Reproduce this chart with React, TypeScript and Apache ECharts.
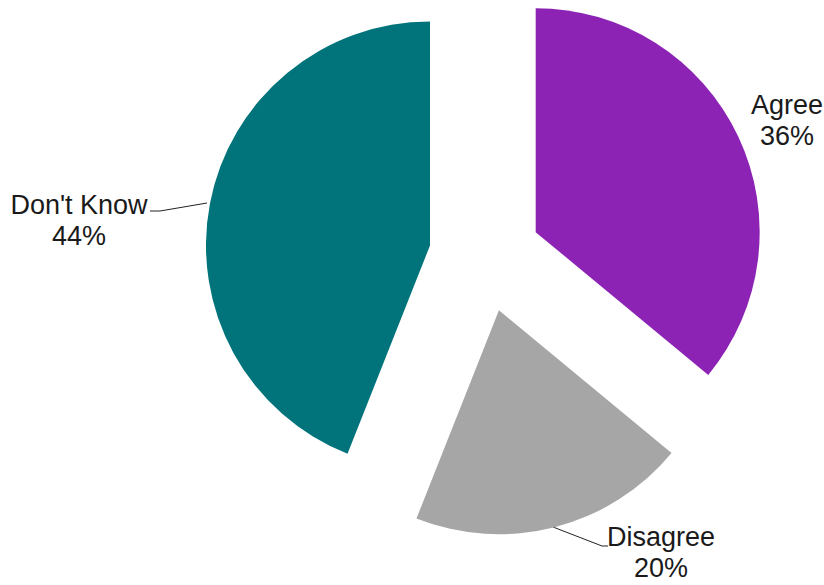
import React, { useEffect, useRef } from "react";
import * as echarts from "echarts";

const categories = ["Agree", "Disagree", "Don't Know"];
const values = [36, 20, 44];
const colors = ["#8C23B4", "#A6A6A6", "#01737A"];

// label anchor positions (text block centre) and leader lines, in pixels
const labelAnchors: [number, number][] = [
  [787, 120],
  [661, 552],
  [79, 220],
];
const labelLines: (number[][] | null)[] = [
  null,
  [
    [553, 527],
    [602, 546],
    [608, 546],
  ],
  [
    [207, 203],
    [160, 211],
    [150, 211],
  ],
];

const FONT = "'Helvetica Neue', 'Liberation Sans', Arial, sans-serif";
const LINE_GAP = 31;

export default function App() {
  const ref = useRef<HTMLDivElement>(null);
  useEffect(() => {
    if (!ref.current) return;
    const chart = echarts.init(ref.current, null, { renderer: "svg" });
    const total = values.reduce((a, b) => a + b, 0);
    const graphics: any[] = [];
    categories.forEach((name, i) => {
      const pct = Math.round((values[i] / total) * 100);
      const lines = [name, `${pct}%`];
      lines.forEach((t, k) => {
        graphics.push({
          type: "text",
          x: labelAnchors[i][0],
          y: labelAnchors[i][1] + (k - 0.5) * LINE_GAP,
          style: {
            text: t,
            fontFamily: FONT,
            fontSize: 27,
            lineHeight: 24,
            fill: "#1a1a1a",
            align: "center",
            verticalAlign: "middle",
            textAlign: "center",
            textVerticalAlign: "middle",
          },
        });
      });
      const pts = labelLines[i];
      if (pts) {
        graphics.push({
          type: "polyline",
          shape: { points: pts },
          style: { stroke: "#222222", lineWidth: 1, fill: null },
        });
      }
    });
    chart.setOption({
      animation: false,
      backgroundColor: "#ffffff",
      graphic: graphics,
      series: [
        {
          type: "pie",
          center: [485, 256],
          radius: 224,
          startAngle: 90,
          clockwise: true,
          selectedMode: "multiple",
          selectedOffset: 56,
          emphasis: { disabled: true },
          label: { show: false },
          labelLine: { show: false },
          data: categories.map((name, i) => ({
            name,
            value: values[i],
            selected: true,
            itemStyle: { color: colors[i] },
          })),
        },
      ],
    });
    return () => chart.dispose();
  }, []);
  return (
    <div
      ref={ref}
      style={{ position: "fixed", left: 0, top: 0, width: 824, height: 585 }}
    />
  );
}
